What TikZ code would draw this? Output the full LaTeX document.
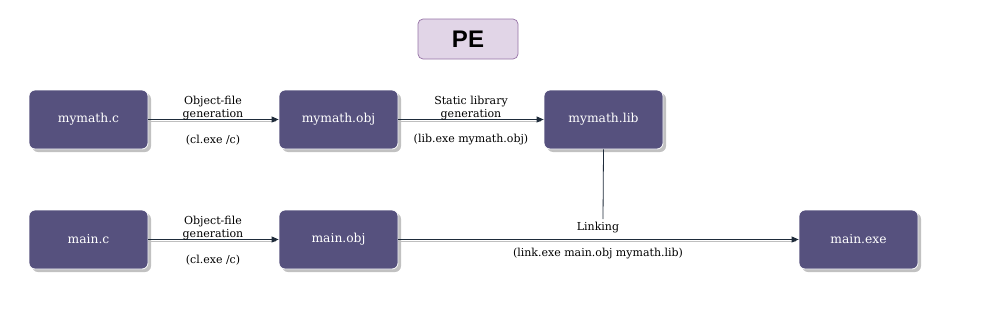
\documentclass[tikz,border=0pt]{standalone}
\usepackage{fontspec}
\setmainfont{DejaVu Serif}
\newfontfamily\titlefont{Liberation Sans}
\usetikzlibrary{arrows.meta,shadows}
\definecolor{boxfill}{HTML}{56517E}
\definecolor{pefill}{HTML}{E1D5E7}
\definecolor{pedraw}{HTML}{9673A6}
\definecolor{arrowcol}{HTML}{1E2B3A}
\tikzset{
  filebox/.style={rectangle, rounded corners=6pt, fill=boxfill, draw=white, line width=0.8pt,
    minimum width=119pt, minimum height=59pt, text=white, font=\fontsize{12.3}{14}\selectfont,
    drop shadow={shadow xshift=3pt, shadow yshift=-3pt, fill=black!30, opacity=0.8}},
  titlebox/.style={rectangle, rounded corners=5pt, fill=pefill, draw=pedraw, line width=0.7pt,
    minimum width=100pt, minimum height=40pt, font=\titlefont\bfseries\fontsize{24}{26}\selectfont},
  lbl/.style={font=\fontsize{11}{13}\selectfont, align=center, inner sep=0pt},
  conn/.style={draw=arrowcol, line width=0.9pt, -{Triangle[length=7pt,width=6pt]}},
  connshadow/.style={draw=black!25, line width=0.9pt},
}
\begin{document}
\begin{tikzpicture}[x=1pt,y=-1pt]
\useasboundingbox (0,0) rectangle (982,308);
\node[titlebox] (pe) at (468,39) {PE};
\node[filebox] (mc) at (88.5,119.5) {mymath.c};
\node[filebox] (mo) at (338.5,119.5) {mymath.obj};
\node[filebox] (ml) at (603.5,119.5) {mymath.lib};
\node[filebox] (c) at (88.5,239.5) {main.c};
\node[filebox] (o) at (338.5,239.5) {main.obj};
\node[filebox] (e) at (858.5,239.5) {main.exe};
% connector shadows
\draw[connshadow] ([yshift=-2pt]mc.east) -- ([yshift=-2pt,xshift=-3pt]mo.west);
\draw[connshadow] ([yshift=-2pt]mo.east) -- ([yshift=-2pt,xshift=-3pt]ml.west);
\draw[connshadow] ([yshift=-2pt]c.east) -- ([yshift=-2pt,xshift=-3pt]o.west);
\draw[connshadow] ([yshift=-2pt]o.east) -- ([yshift=-2pt,xshift=-3pt]e.west);
% connectors
\draw[conn] (mc.east) -- (mo.west);
\draw[conn] (mo.east) -- (ml.west);
\draw[conn] (c.east) -- (o.west);
\draw[conn] (o.east) -- (e.west);
% labels
\node[lbl] (l1) at (213,108) {Object-file\\generation};
\node[lbl] (l1b) at (213,140) {(cl.exe /c)};
\node[lbl] (l2) at (471,108) {Static library\\generation};
\node[lbl] (l2b) at (471,140) {(lib.exe mymath.obj)};
\node[lbl] (l3) at (213,228) {Object-file\\generation};
\node[lbl] (l3b) at (213,260) {(cl.exe /c)};
\node[lbl] (lk) at (598,227.5) {Linking};
\node[lbl] (lkb) at (598,254) {(link.exe main.obj mymath.lib)};
\coordinate (lkend) at (603,219);
\draw[arrowcol, line width=0.8pt] (ml.south) -- (lkend);
\end{tikzpicture}
\end{document}
